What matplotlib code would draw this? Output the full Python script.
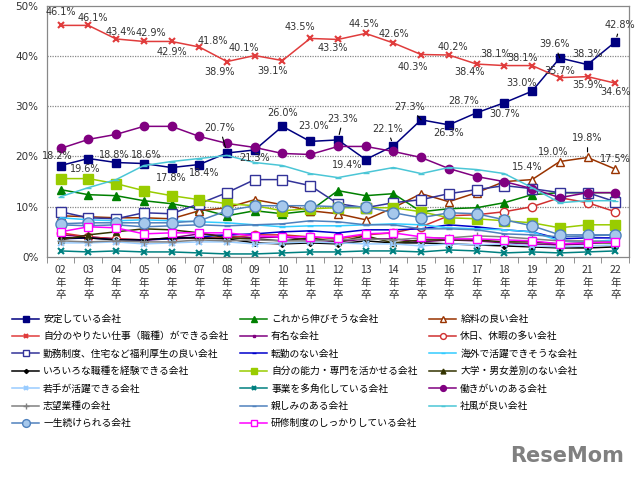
import numpy as np
import matplotlib.pyplot as plt

plt.rcParams['font.family'] = ['Noto Sans CJK JP', 'DejaVu Sans']

years = ['02', '03', '04', '05', '06', '07', '08', '09', '10', '11', '12',
         '13', '14', '15', '16', '17', '18', '19', '20', '21', '22']

antei = [18.2, 19.6, 18.8, 18.6, 17.8, 18.4, 20.7, 21.3, 26.0, 23.0, 23.3,
         19.4, 22.1, 27.3, 26.3, 28.7, 30.7, 33.0, 39.6, 38.3, 42.8]
korekara = [13.4, 12.4, 12.2, 11.2, 10.6, 9.6, 8.2, 9.2, 8.6, 9.2, 13.2,
            12.2, 12.6, 9.0, 9.6, 9.8, 10.8, 12.4, 12.8, 12.8, 12.8]
kyuryo = [8.2, 8.0, 7.8, 7.8, 7.6, 9.2, 9.8, 11.4, 10.4, 9.2, 8.6,
          7.4, 9.8, 12.6, 11.0, 12.8, 15.0, 15.4, 19.0, 19.8, 17.5]
yaritai = [46.1, 46.1, 43.4, 42.9, 42.9, 41.8, 38.9, 40.1, 39.1, 43.5, 43.3,
           44.5, 42.6, 40.3, 40.2, 38.4, 38.1, 38.1, 35.7, 35.9, 34.6]
yumei = [4.4, 4.0, 3.6, 3.4, 3.8, 4.6, 4.2, 3.8, 4.0, 3.4, 3.0,
         3.6, 3.6, 3.0, 3.4, 3.2, 2.8, 2.6, 2.4, 2.6, 3.2]
kyujitsu = [4.8, 4.0, 3.6, 3.4, 3.6, 3.8, 3.8, 4.4, 4.4, 4.0, 3.6,
            4.4, 4.8, 6.0, 8.2, 8.4, 9.0, 10.0, 11.8, 10.8, 9.0]
fukuri = [9.0, 7.8, 7.6, 8.8, 8.6, 10.6, 12.8, 15.4, 15.4, 14.2, 10.6,
          9.8, 10.8, 11.4, 12.6, 13.4, 14.2, 13.6, 12.8, 12.8, 11.0]
tenkin = [3.6, 3.8, 3.4, 3.4, 3.6, 4.0, 4.4, 4.6, 5.0, 5.2, 4.8,
          5.4, 5.4, 5.6, 6.4, 6.0, 5.4, 5.0, 3.6, 3.8, 3.8]
kaigai = [7.8, 7.4, 7.2, 7.4, 7.2, 7.0, 6.8, 6.4, 6.0, 6.2, 6.2,
          6.4, 6.6, 6.4, 5.8, 5.6, 5.4, 5.0, 3.2, 3.0, 3.4]
iroiro = [3.8, 3.8, 3.4, 3.4, 3.8, 3.8, 3.6, 2.8, 2.6, 2.8, 2.6,
          3.2, 2.8, 2.8, 2.6, 2.4, 2.2, 2.0, 1.8, 1.8, 2.0]
noryoku = [15.6, 15.6, 14.6, 13.2, 12.2, 11.4, 10.6, 10.2, 9.2, 9.6, 9.8,
           9.8, 9.8, 9.0, 7.8, 7.6, 7.2, 6.8, 5.8, 6.4, 6.4]
sabetsu = [3.4, 4.4, 5.0, 5.6, 5.4, 4.8, 3.8, 3.6, 3.2, 3.8, 3.0,
           4.2, 2.8, 3.4, 3.4, 3.4, 3.0, 3.0, 2.6, 2.8, 2.8]
wakate = [2.8, 2.8, 3.0, 2.6, 2.8, 3.0, 3.0, 2.6, 2.8, 3.0, 2.8,
          2.6, 2.6, 2.2, 2.6, 2.4, 2.6, 2.2, 2.0, 2.2, 2.4]
takaku = [1.2, 1.0, 1.2, 1.0, 1.0, 0.8, 0.6, 0.6, 0.8, 1.0, 1.0,
          1.2, 1.2, 1.0, 1.4, 1.2, 0.8, 1.0, 0.8, 1.0, 1.2]
hatarakigai = [21.6, 23.4, 24.4, 26.0, 26.0, 24.0, 22.6, 21.8, 20.6, 20.4, 22.0,
               22.0, 21.0, 19.8, 17.6, 16.0, 15.0, 13.6, 11.8, 12.8, 12.8]
shibo = [3.2, 3.0, 3.2, 3.0, 3.0, 3.4, 3.2, 3.4, 3.2, 3.2, 3.4,
         3.6, 3.4, 3.8, 3.8, 4.2, 4.0, 3.6, 3.2, 3.2, 3.0]
shitashimi = [6.4, 6.2, 6.4, 6.0, 6.2, 6.4, 6.2, 6.4, 6.6, 7.2, 7.0,
              6.4, 6.4, 5.6, 5.6, 5.4, 4.6, 4.4, 4.0, 4.2, 4.4]
shafu = [12.0, 13.8, 15.4, 18.2, 19.0, 19.6, 20.2, 18.8, 18.2, 16.6, 15.8,
         16.8, 17.8, 16.6, 17.8, 17.4, 16.6, 13.8, 10.8, 11.2, 11.2]
issho = [6.6, 6.8, 6.8, 6.8, 6.8, 7.2, 9.2, 10.2, 10.2, 10.2, 10.0,
         10.0, 8.8, 7.8, 8.8, 8.6, 7.4, 6.2, 4.4, 4.4, 4.4]
kenshu = [5.0, 6.0, 5.8, 4.6, 4.8, 4.8, 4.8, 4.2, 4.0, 4.0, 3.8,
          4.6, 4.8, 4.0, 3.6, 3.6, 3.4, 3.2, 2.6, 2.8, 3.0]

# (label, values, color, marker, markersize, facecolor)
series = [
    ('安定している会社', antei, '#000080', 's', 6, '#000080'),
    ('これから伸びそうな会社', korekara, '#008000', '^', 6, '#008000'),
    ('給料の良い会社', kyuryo, '#993300', '^', 6, 'white'),
    ('自分のやりたい仕事（職種）ができる会社', yaritai, '#E03C3C', 'x', 5, '#E03C3C'),
    ('有名な会社', yumei, '#800080', 's', 3, '#800080'),
    ('休日、休暇の多い会社', kyujitsu, '#D03030', 'o', 6, 'white'),
    ('勤務制度、住宅など福利厚生の良い会社', fukuri, '#333399', 's', 7, 'white'),
    ('転勤のない会社', tenkin, '#0000CC', '_', 5, '#0000CC'),
    ('海外で活躍できそうな会社', kaigai, '#33CCFF', '_', 5, '#33CCFF'),
    ('いろいろな職種を経験できる会社', iroiro, '#000000', 'D', 3, '#000000'),
    ('自分の能力・専門を活かせる会社', noryoku, '#99CC00', 's', 7, '#99CC00'),
    ('大学・男女差別のない会社', sabetsu, '#333300', '^', 5, '#333300'),
    ('若手が活躍できる会社', wakate, '#99CCFF', 'x', 5, '#99CCFF'),
    ('事業を多角化している会社', takaku, '#008080', 'x', 5, '#008080'),
    ('働きがいのある会社', hatarakigai, '#800080', 'o', 6, '#800080'),
    ('志望業種の会社', shibo, '#808080', '+', 6, '#808080'),
    ('親しみのある会社', shitashimi, '#4F81BD', '_', 5, '#4F81BD'),
    ('社風が良い会社', shafu, '#4BC6D6', '_', 5, '#4BC6D6'),
    ('一生続けられる会社', issho, '#4F81BD', 'o', 8, '#A6C8EC'),
    ('研修制度のしっかりしている会社', kenshu, '#FF00FF', 's', 6, 'white'),
]

# label offsets in pixels (dx, dy, leader)
red_off = [(0, 13, 0), (4, 7, 0), (5, 7, 0), (7, 8, 0), (0, -11, 0), (14, 6, 0),
           (-7, -10, 0), (-11, 8, 0), (-10, -10, 0), (-10, 11, 0), (-5, -9, 0),
           (-2, 9, 0), (0, 9, 0), (-8, -12, 0), (4, 8, 0), (-7, -8, 0), (-9, 12, 0),
           (-9, 8, 0), (0, 7, 0), (0, -8, 0), (0, -9, 0)]
navy_off = [(-3, 10, 0), (-3, -10, 0), (-2, 8, 0), (2, 9, 0), (0, -10, 0), (5, -8, 0),
            (-7, 25, 1), (0, -8, 0), (0, 13, 0), (3, 15, 0), (5, 21, 1),
            (-18, -5, 0), (-6, 17, 1), (-11, 13, 1), (0, -8, 0), (-13, 12, 0),
            (0, -11, 0), (-10, 8, 0), (-5, 14, 1), (0, 11, 0), (5, 17, 1)]
brown_idx = [17, 18, 19, 20]
brown_off = [(-5, 13, 0), (-7, 10, 0), (0, 19, 1), (0, 10, 0)]

fig = plt.figure(figsize=(6.4, 4.83), dpi=100)
ax = fig.add_axes([0.073, 0.468, 0.910, 0.520])
x = np.arange(len(years))

handles = []
for name, vals, col, mk, ms, fc in series:
    mew = 1.5 if mk == 'x' else 1.0
    ln, = ax.plot(x, vals, color=col, lw=1.1, marker=mk, markersize=ms,
                  markerfacecolor=fc, markeredgecolor=col, markeredgewidth=mew,
                  label=name)
    handles.append(ln)

def put_labels(vals, idxs, offs):
    for i, (dx, dy, lead) in zip(idxs, offs):
        kw = {}
        if lead:
            kw['arrowprops'] = dict(arrowstyle='-', color='black', lw=0.8,
                                    shrinkA=1, shrinkB=4)
        ax.annotate(f'{vals[i]:.1f}%', (x[i], vals[i]),
                    xytext=(dx * 0.72, dy * 0.72), textcoords='offset points',
                    ha='center', va='center', fontsize=7, color='#333333',
                    family='DejaVu Sans', **kw)

put_labels(yaritai, range(21), red_off)
put_labels(antei, range(21), navy_off)
put_labels(kyuryo, brown_idx, brown_off)

ax.set_xlim(-0.5, 20.5)
ax.set_ylim(0, 50)
ax.set_yticks([0, 10, 20, 30, 40, 50])
ax.set_yticklabels([f'{v}%' for v in range(0, 60, 10)], fontsize=7.5, color='#333333',
                   family='DejaVu Sans')
ax.set_xticks(x)
ax.set_xticklabels([f'{y}\n年\n卒' for y in years], fontsize=7.5, color='#333333',
                   linespacing=1.3)
ax.set_xticks(np.arange(-0.5, 21, 1), minor=True)
ax.tick_params(axis='x', which='major', length=0, pad=6)
ax.tick_params(axis='x', which='minor', length=4, color='#808080')
ax.tick_params(axis='y', length=0, pad=6)
for y in [10, 20, 30, 40]:
    ax.axhline(y, color='#888888', lw=0.9, ls=(0, (1, 1)), zorder=0)
for s in ax.spines.values():
    s.set_color('#888888')
    s.set_linewidth(0.9)

# legend laid out row by row in three columns
order = [i for c in range(3) for i in range(c, 20, 3)]
fig.legend([handles[i] for i in order], [series[i][0] for i in order],
           ncol=3, loc='upper left', bbox_to_anchor=(0.005, 0.368),
           frameon=False, fontsize=7, handlelength=2.8, labelspacing=0.76,
           columnspacing=1.2, handletextpad=0.4, markerscale=0.7)

fig.text(0.975, 0.055, 'ReseMom', ha='right', va='center', fontsize=15,
         fontweight='bold', color='#808080', family='DejaVu Sans')

fig.savefig('out.png', dpi=100)
